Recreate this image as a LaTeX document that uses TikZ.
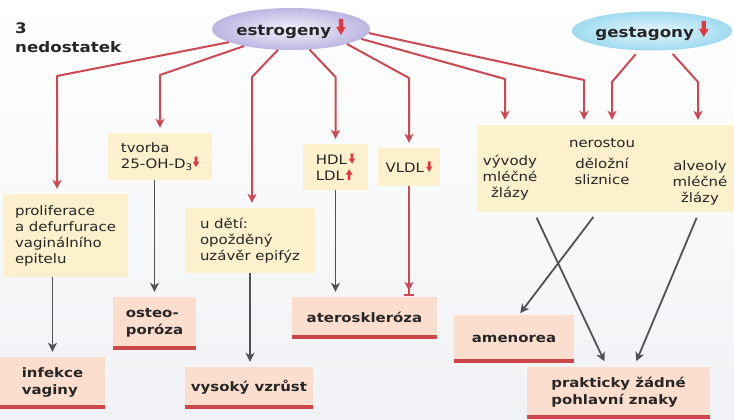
\documentclass[tikz,border=0pt]{standalone}
\usepackage{fontspec}
\setmainfont{DejaVu Sans}[FakeStretch=1.15]
\usetikzlibrary{arrows.meta,shapes.geometric}
\definecolor{textcol}{RGB}{38,38,38}
\definecolor{beige}{RGB}{252,240,205}
\definecolor{pinkfill}{RGB}{252,222,206}
\definecolor{barred}{RGB}{205,70,72}
\definecolor{lred}{RGB}{204,72,82}
\definecolor{lgray}{RGB}{80,82,84}
\definecolor{arrred}{RGB}{225,55,60}
\definecolor{estrin}{RGB}{242,242,251}
\definecolor{estrout}{RGB}{188,182,226}
\definecolor{gestin}{RGB}{228,247,253}
\definecolor{gestout}{RGB}{160,218,240}
\definecolor{bgbot}{RGB}{240,242,245}
\newcommand{\dnarr}[1][1]{\tikz[baseline=-1pt,x=#1pt,y=#1pt]\fill[arrred] (-1.3,10) -- (1.3,10) -- (1.3,5) -- (3,5) -- (0,0) -- (-3,5) -- (-1.3,5) -- cycle;}
\newcommand{\uparr}[1][1]{\tikz[baseline=-1pt,x=#1pt,y=#1pt]\fill[arrred] (-1.3,0) -- (1.3,0) -- (1.3,5) -- (3,5) -- (0,10) -- (-3,5) -- (-1.3,5) -- cycle;}
\begin{document}
\begin{tikzpicture}[x=1pt,y=-1pt,
  txt/.style={text=textcol, font=\fontsize{13}{16}\selectfont, align=center, inner sep=0pt},
  cause/.style={rectangle, fill=beige, inner sep=0pt, text=textcol, font=\fontsize{13}{16}\selectfont, align=left},
  result/.style={rectangle, fill=pinkfill, inner sep=0pt, text=textcol, font=\bfseries\fontsize{13}{17}\selectfont, align=left,
    path picture={\draw[line width=7pt, draw=barred] (path picture bounding box.south west) -- (path picture bounding box.south east);}},
  hormone/.style={ellipse, inner sep=0pt, font=\bfseries\fontsize{14.5}{17}\selectfont, text=textcol},
  redarr/.style={draw=lred, line width=2pt, line join=round, shorten >=5pt, -{Stealth[length=9pt,width=9pt,inset=2.5pt]}},
  grayarr/.style={draw=lgray, line width=1.8pt, line join=round, shorten >=5pt, -{Stealth[length=9pt,width=9pt,inset=2.5pt]}},
  redbar/.style={draw=lred, line width=2pt, shorten >=1pt, -{Stealth[length=9pt,width=9pt,inset=2.5pt,sep=3pt] Bar[width=10pt]}}
]
\useasboundingbox (0,0) rectangle (734,420);
\fill[top color=white, bottom color=bgbot] (0,0) rectangle (734,420);

% title
\node[font=\bfseries\fontsize{14.5}{19}\selectfont, text=textcol, align=left, anchor=north west, inner sep=0pt] (title) at (15,23) {3\\nedostatek};

% hormones
\node[hormone, inner color=estrin, outer color=estrout, minimum width=158pt, minimum height=42pt] (estr) at (291,29) {estrogeny\hspace{5pt}\dnarr[1.6]};
\node[hormone, inner color=gestin, outer color=gestout, minimum width=155pt, minimum height=39pt] (gest) at (652,31) {gestagony\hspace{5pt}\dnarr[1.6]};

% causes
\node[cause, minimum width=125pt, minimum height=83pt] (prol) at (65.5,235.5) {proliferace\\a defurfurace\\vaginálního\\epitelu};
\node[cause, minimum width=104pt, minimum height=47pt] (tvorba) at (160,156.5) {tvorba\\25-OH-D\textsubscript{3}\dnarr[1.05]};
\node[cause, minimum width=130pt, minimum height=65pt] (udeti) at (250,240.5) {u dětí:\\opožděný\\uzávěr epifýz};
\node[cause, minimum width=65pt, minimum height=46pt] (hdl) at (335.5,167) {HDL\hspace{2pt}\dnarr[1.05]\\LDL\hspace{2pt}\uparr[1.05]};
\node[cause, minimum width=62pt, minimum height=38pt] (vldl) at (409,167) {VLDL\hspace{2pt}\dnarr[1.05]};
\node[cause, minimum width=257pt, minimum height=87pt] (big) at (605,168.5) {};
\node[txt] (vyv) at (510,178) {vývody\\mléčné\\žlázy};
\node[txt] (nero) at (602,162) {nerostou\\[5pt]děložní\\sliznice};
\node[txt] (alv) at (700,183) {alveoly\\mléčné\\žlázy};

% results
\node[result, minimum width=105pt, minimum height=51pt] (inf) at (52.5,382.5) {infekce\\vaginy};
\node[result, minimum width=83pt, minimum height=52pt] (osteo) at (154.5,323) {osteo-\\poróza};
\node[result, minimum width=128pt, minimum height=41pt] (vys) at (249,387.5) {vysoký vzrůst};
\node[result, minimum width=145pt, minimum height=41pt] (ater) at (364.5,317.5) {ateroskleróza};
\node[result, minimum width=120pt, minimum height=47pt] (amen) at (514,338.5) {amenorea};
\node[result, minimum width=183pt, minimum height=51pt] (prakt) at (618.5,392.5) {prakticky žádné\\pohlavní znaky};

% red connectors from estrogeny
\draw[redarr] (estr.192) -- (57,76) -- ([xshift=-8.5pt]prol.north);
\draw[redarr] (estr.200) -- (160,75) -- (tvorba.north);
\draw[redarr] (estr.238) -- (252,77) -- ([xshift=2pt]udeti.north);
\draw[redarr] (estr.312) -- (335.5,77) -- (hdl.north);
\draw[redarr] (estr.345) -- (409,78) -- (vldl.north);
\draw[redarr] (estr.352) -- (505,79) -- ([xshift=-100pt]big.north);
\draw[redarr] (estr.357) -- (584,80) -- ([xshift=-21pt]big.north);
% from gestagony
\draw[redarr, shorten <=5pt] (gest.236) -- (612,82) -- ([xshift=7pt]big.north);
\draw[redarr, shorten <=5pt] (gest.312) -- (698,82) -- ([xshift=93pt]big.north);

% gray connectors
\draw[grayarr] (prol.south -| inf.north) -- (inf.north);
\draw[grayarr] (tvorba.south -| osteo.north) -- (osteo.north);
\draw[grayarr] (udeti.south) -- (udeti.south |- vys.north);
\draw[grayarr] (hdl.south) -- (hdl.south |- ater.north);
\draw[redbar] (vldl.south) -- (vldl.south |- ater.north);
\draw[grayarr, shorten <=6pt, shorten >=6pt] ([xshift=-71pt]big.south) -- ([xshift=-11.5pt]prakt.north);
\draw[grayarr, shorten <=6pt, shorten >=2pt] ([xshift=-8pt]big.south) -- ([xshift=5pt]amen.north);
\draw[grayarr, shorten <=6pt, shorten >=6pt] ([xshift=94pt]big.south) -- ([xshift=15.5pt]prakt.north);
\end{tikzpicture}
\end{document}
